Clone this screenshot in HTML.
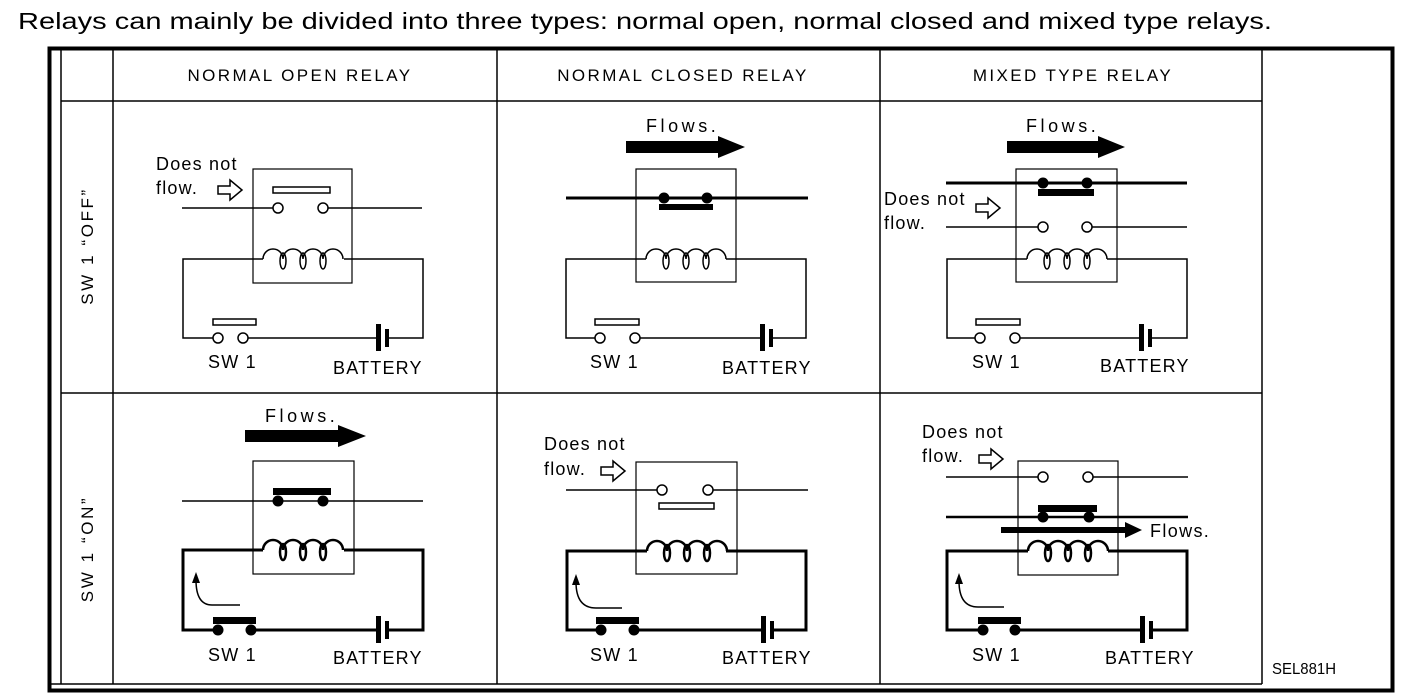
<!DOCTYPE html>
<html><head><meta charset="utf-8"><style>
html,body{margin:0;padding:0;background:#fff;}
svg{display:block;}
text{font-family:"Liberation Sans",Arial,sans-serif;fill:#000;}
</style></head><body>
<svg width="1408" height="700" viewBox="0 0 1408 700" xmlns="http://www.w3.org/2000/svg">
<defs>
<g id="coil" fill="none" stroke="#000">
<path d="M0,0 a10,10 0 0 1 20,0 a10,10 0 0 1 20,0 a10,10 0 0 1 20,0 a10,10 0 0 1 20,0"/>
<ellipse cx="20" cy="2" rx="3" ry="8"/><ellipse cx="40" cy="2" rx="3" ry="8"/><ellipse cx="60" cy="2" rx="3" ry="8"/>
</g>
<path id="harrow" d="M0,-4 L12,-4 L12,-10 L24,0 L12,10 L12,4 L0,4 Z" fill="#fff" stroke="#000" stroke-width="1.5"/>
<g id="batt"><rect x="0" y="-14" width="5" height="27" fill="#000"/><rect x="9" y="-9" width="4" height="18" fill="#000"/></g>
</defs>

<text x="18" y="29" font-size="23" textLength="1254" lengthAdjust="spacingAndGlyphs">Relays can mainly be divided into three types: normal open, normal closed and mixed type relays.</text>

<!-- frame -->
<rect x="49.5" y="48.5" width="1343" height="642" fill="none" stroke="#000" stroke-width="4"/>
<g stroke="#000" stroke-width="1.5" fill="none">
<line x1="61" y1="49" x2="61" y2="684"/>
<line x1="113" y1="49" x2="113" y2="684"/>
<line x1="497" y1="49" x2="497" y2="684"/>
<line x1="880" y1="49" x2="880" y2="684"/>
<line x1="1262" y1="49" x2="1262" y2="684"/>
<line x1="61" y1="101" x2="1262" y2="101"/>
<line x1="61" y1="393" x2="1262" y2="393"/>
<line x1="49" y1="684" x2="1262" y2="684"/>
</g>
<g font-size="17" text-anchor="middle">
<text x="300" y="81" letter-spacing="2.4">NORMAL OPEN RELAY</text>
<text x="683" y="81" letter-spacing="2.4">NORMAL CLOSED RELAY</text>
<text x="1073" y="81" letter-spacing="2.4">MIXED TYPE RELAY</text>
<text transform="translate(93,246) rotate(-90)" letter-spacing="2.6">SW 1 “OFF”</text>
<text transform="translate(93,549) rotate(-90)" letter-spacing="2.6">SW 1 “ON”</text>
</g>
<text x="1272" y="674" font-size="16" textLength="64" lengthAdjust="spacingAndGlyphs">SEL881H</text>

<g font-size="18" letter-spacing="1.2">
<!-- ===== NO OFF ===== -->
<rect x="253" y="169" width="99" height="114" fill="none" stroke="#000" stroke-width="1.2"/>
<rect x="273" y="187" width="57" height="6" fill="#fff" stroke="#000" stroke-width="1.5"/>
<g stroke="#000" stroke-width="1.5" fill="none">
<line x1="182" y1="208" x2="273" y2="208"/><line x1="328" y1="208" x2="422" y2="208"/>
<circle cx="278" cy="208" r="5" fill="#fff"/><circle cx="323" cy="208" r="5" fill="#fff"/>
<polyline points="263,259 183,259 183,338 213,338"/>
<line x1="248" y1="338" x2="378" y2="338"/><polyline points="388,338 423,338 423,259 344,259"/>
<circle cx="218" cy="338" r="5" fill="#fff"/><circle cx="243" cy="338" r="5" fill="#fff"/>
</g>
<use href="#coil" x="263" y="259" stroke-width="1.5"/>
<rect x="213" y="319" width="43" height="6" fill="#fff" stroke="#000" stroke-width="1.5"/>
<use href="#batt" x="376" y="338"/>
<text x="156" y="170">Does not</text><text x="156" y="194">flow.</text>
<use href="#harrow" x="218" y="190"/>
<text x="208" y="368">SW 1</text><text x="333" y="374">BATTERY</text>

<!-- ===== NC OFF ===== -->
<text x="646" y="132" textLength="71">Flows.</text>
<path d="M626,141 H718 V136 L745,147 L718,158 V153 H626 Z" fill="#000"/>
<rect x="636" y="169" width="100" height="113" fill="none" stroke="#000" stroke-width="1.2"/>
<line x1="566" y1="198" x2="808" y2="198" stroke="#000" stroke-width="3"/>
<circle cx="664" cy="198" r="5.5"/><circle cx="707" cy="198" r="5.5"/>
<rect x="659" y="204" width="54" height="6"/>
<g stroke="#000" stroke-width="1.5" fill="none">
<polyline points="646,259 566,259 566,338 595,338"/>
<line x1="640" y1="338" x2="763" y2="338"/><polyline points="773,338 806,338 806,259 726,259"/>
<circle cx="600" cy="338" r="5" fill="#fff"/><circle cx="635" cy="338" r="5" fill="#fff"/>
</g>
<use href="#coil" x="646" y="259" stroke-width="1.5"/>
<rect x="595" y="319" width="44" height="6" fill="#fff" stroke="#000" stroke-width="1.5"/>
<use href="#batt" x="760" y="338"/>
<text x="590" y="368">SW 1</text><text x="722" y="374">BATTERY</text>

<!-- ===== MX OFF ===== -->
<text x="1026" y="132" textLength="71">Flows.</text>
<path d="M1007,141 H1098 V136 L1125,147 L1098,158 V153 H1007 Z" fill="#000"/>
<rect x="1016" y="169" width="101" height="113" fill="none" stroke="#000" stroke-width="1.2"/>
<line x1="946" y1="183" x2="1187" y2="183" stroke="#000" stroke-width="3"/>
<circle cx="1043" cy="183" r="5.5"/><circle cx="1087" cy="183" r="5.5"/>
<rect x="1038" y="189" width="56" height="7"/>
<g stroke="#000" stroke-width="1.5" fill="none">
<line x1="946" y1="227" x2="1038" y2="227"/><line x1="1092" y1="227" x2="1187" y2="227"/>
<circle cx="1043" cy="227" r="5" fill="#fff"/><circle cx="1087" cy="227" r="5" fill="#fff"/>
<polyline points="1027,259 947,259 947,338 975,338"/>
<line x1="1020" y1="338" x2="1142" y2="338"/><polyline points="1152,338 1187,338 1187,259 1107,259"/>
<circle cx="980" cy="338" r="5" fill="#fff"/><circle cx="1015" cy="338" r="5" fill="#fff"/>
</g>
<use href="#coil" x="1027" y="259" stroke-width="1.5"/>
<rect x="976" y="319" width="44" height="6" fill="#fff" stroke="#000" stroke-width="1.5"/>
<use href="#batt" x="1139" y="338"/>
<text x="884" y="205">Does not</text><text x="884" y="229">flow.</text>
<use href="#harrow" x="976" y="208"/>
<text x="972" y="368">SW 1</text><text x="1100" y="372">BATTERY</text>

<!-- ===== NO ON ===== -->
<text x="265" y="422" textLength="71">Flows.</text>
<path d="M245,430 H338 V425 L366,436 L338,447 V442 H245 Z" fill="#000"/>
<rect x="253" y="461" width="101" height="113" fill="none" stroke="#000" stroke-width="1.2"/>
<line x1="182" y1="501" x2="423" y2="501" stroke="#000" stroke-width="1.5"/>
<circle cx="278" cy="501" r="5.5"/><circle cx="323" cy="501" r="5.5"/>
<rect x="273" y="488" width="58" height="7"/>
<g stroke="#000" stroke-width="3" fill="none">
<polyline points="263,550 183,550 183,630 213,630"/>
<line x1="252" y1="630" x2="378" y2="630"/><polyline points="388,630 423,630 423,550 344,550"/>
</g>
<use href="#coil" x="263" y="550" stroke-width="2.5"/>
<circle cx="218" cy="630" r="5.5"/><circle cx="251" cy="630" r="5.5"/>
<rect x="213" y="617" width="43" height="7"/>
<use href="#batt" x="376" y="630"/>
<path d="M240,605 H212 Q196,605 196,580" fill="none" stroke="#000" stroke-width="1.5"/>
<path d="M192,583 L196,572 L200,583 Z" fill="#000"/>
<text x="208" y="661">SW 1</text><text x="333" y="664">BATTERY</text>

<!-- ===== NC ON ===== -->
<text x="544" y="450">Does not</text><text x="544" y="475">flow.</text>
<use href="#harrow" x="601" y="471"/>
<rect x="636" y="462" width="101" height="112" fill="none" stroke="#000" stroke-width="1.2"/>
<g stroke="#000" stroke-width="1.5" fill="none">
<line x1="566" y1="490" x2="657" y2="490"/><line x1="713" y1="490" x2="808" y2="490"/>
<circle cx="662" cy="490" r="5" fill="#fff"/><circle cx="708" cy="490" r="5" fill="#fff"/>
</g>
<rect x="659" y="503" width="55" height="6" fill="#fff" stroke="#000" stroke-width="1.5"/>
<g stroke="#000" stroke-width="3" fill="none">
<polyline points="647,551 567,551 567,630 596,630"/>
<line x1="635" y1="630" x2="763" y2="630"/><polyline points="773,630 806,630 806,551 726,551"/>
</g>
<use href="#coil" x="647" y="551" stroke-width="2.5"/>
<circle cx="601" cy="630" r="5.5"/><circle cx="634" cy="630" r="5.5"/>
<rect x="596" y="617" width="43" height="7"/>
<use href="#batt" x="761" y="630"/>
<path d="M622,608 H596 Q576,608 576,582" fill="none" stroke="#000" stroke-width="1.5"/>
<path d="M572,585 L576,574 L580,585 Z" fill="#000"/>
<text x="590" y="661">SW 1</text><text x="722" y="664">BATTERY</text>

<!-- ===== MX ON ===== -->
<text x="922" y="438">Does not</text><text x="922" y="462">flow.</text>
<use href="#harrow" x="979" y="459"/>
<rect x="1018" y="461" width="100" height="114" fill="none" stroke="#000" stroke-width="1.2"/>
<g stroke="#000" stroke-width="1.5" fill="none">
<line x1="946" y1="477" x2="1038" y2="477"/><line x1="1093" y1="477" x2="1188" y2="477"/>
<circle cx="1043" cy="477" r="5" fill="#fff"/><circle cx="1088" cy="477" r="5" fill="#fff"/>
</g>
<line x1="946" y1="517" x2="1188" y2="517" stroke="#000" stroke-width="2.5"/>
<circle cx="1043" cy="517" r="5.5"/><circle cx="1089" cy="517" r="5.5"/>
<rect x="1038" y="505" width="59" height="7"/>
<path d="M1001,527 H1125 V522 L1142,530 L1125,538 V533 H1001 Z" fill="#000"/>
<text x="1150" y="537" textLength="60">Flows.</text>
<g stroke="#000" stroke-width="3" fill="none">
<polyline points="1028,551 947,551 947,630 978,630"/>
<line x1="1016" y1="630" x2="1142" y2="630"/><polyline points="1152,630 1187,630 1187,551 1108,551"/>
</g>
<use href="#coil" x="1028" y="551" stroke-width="2.5"/>
<circle cx="983" cy="630" r="5.5"/><circle cx="1015" cy="630" r="5.5"/>
<rect x="978" y="617" width="43" height="7"/>
<use href="#batt" x="1140" y="630"/>
<path d="M1004,607 H978 Q959,607 959,581" fill="none" stroke="#000" stroke-width="1.5"/>
<path d="M955,584 L959,573 L963,584 Z" fill="#000"/>
<text x="972" y="661">SW 1</text><text x="1105" y="664">BATTERY</text>
</g>
</svg>
</body></html>
